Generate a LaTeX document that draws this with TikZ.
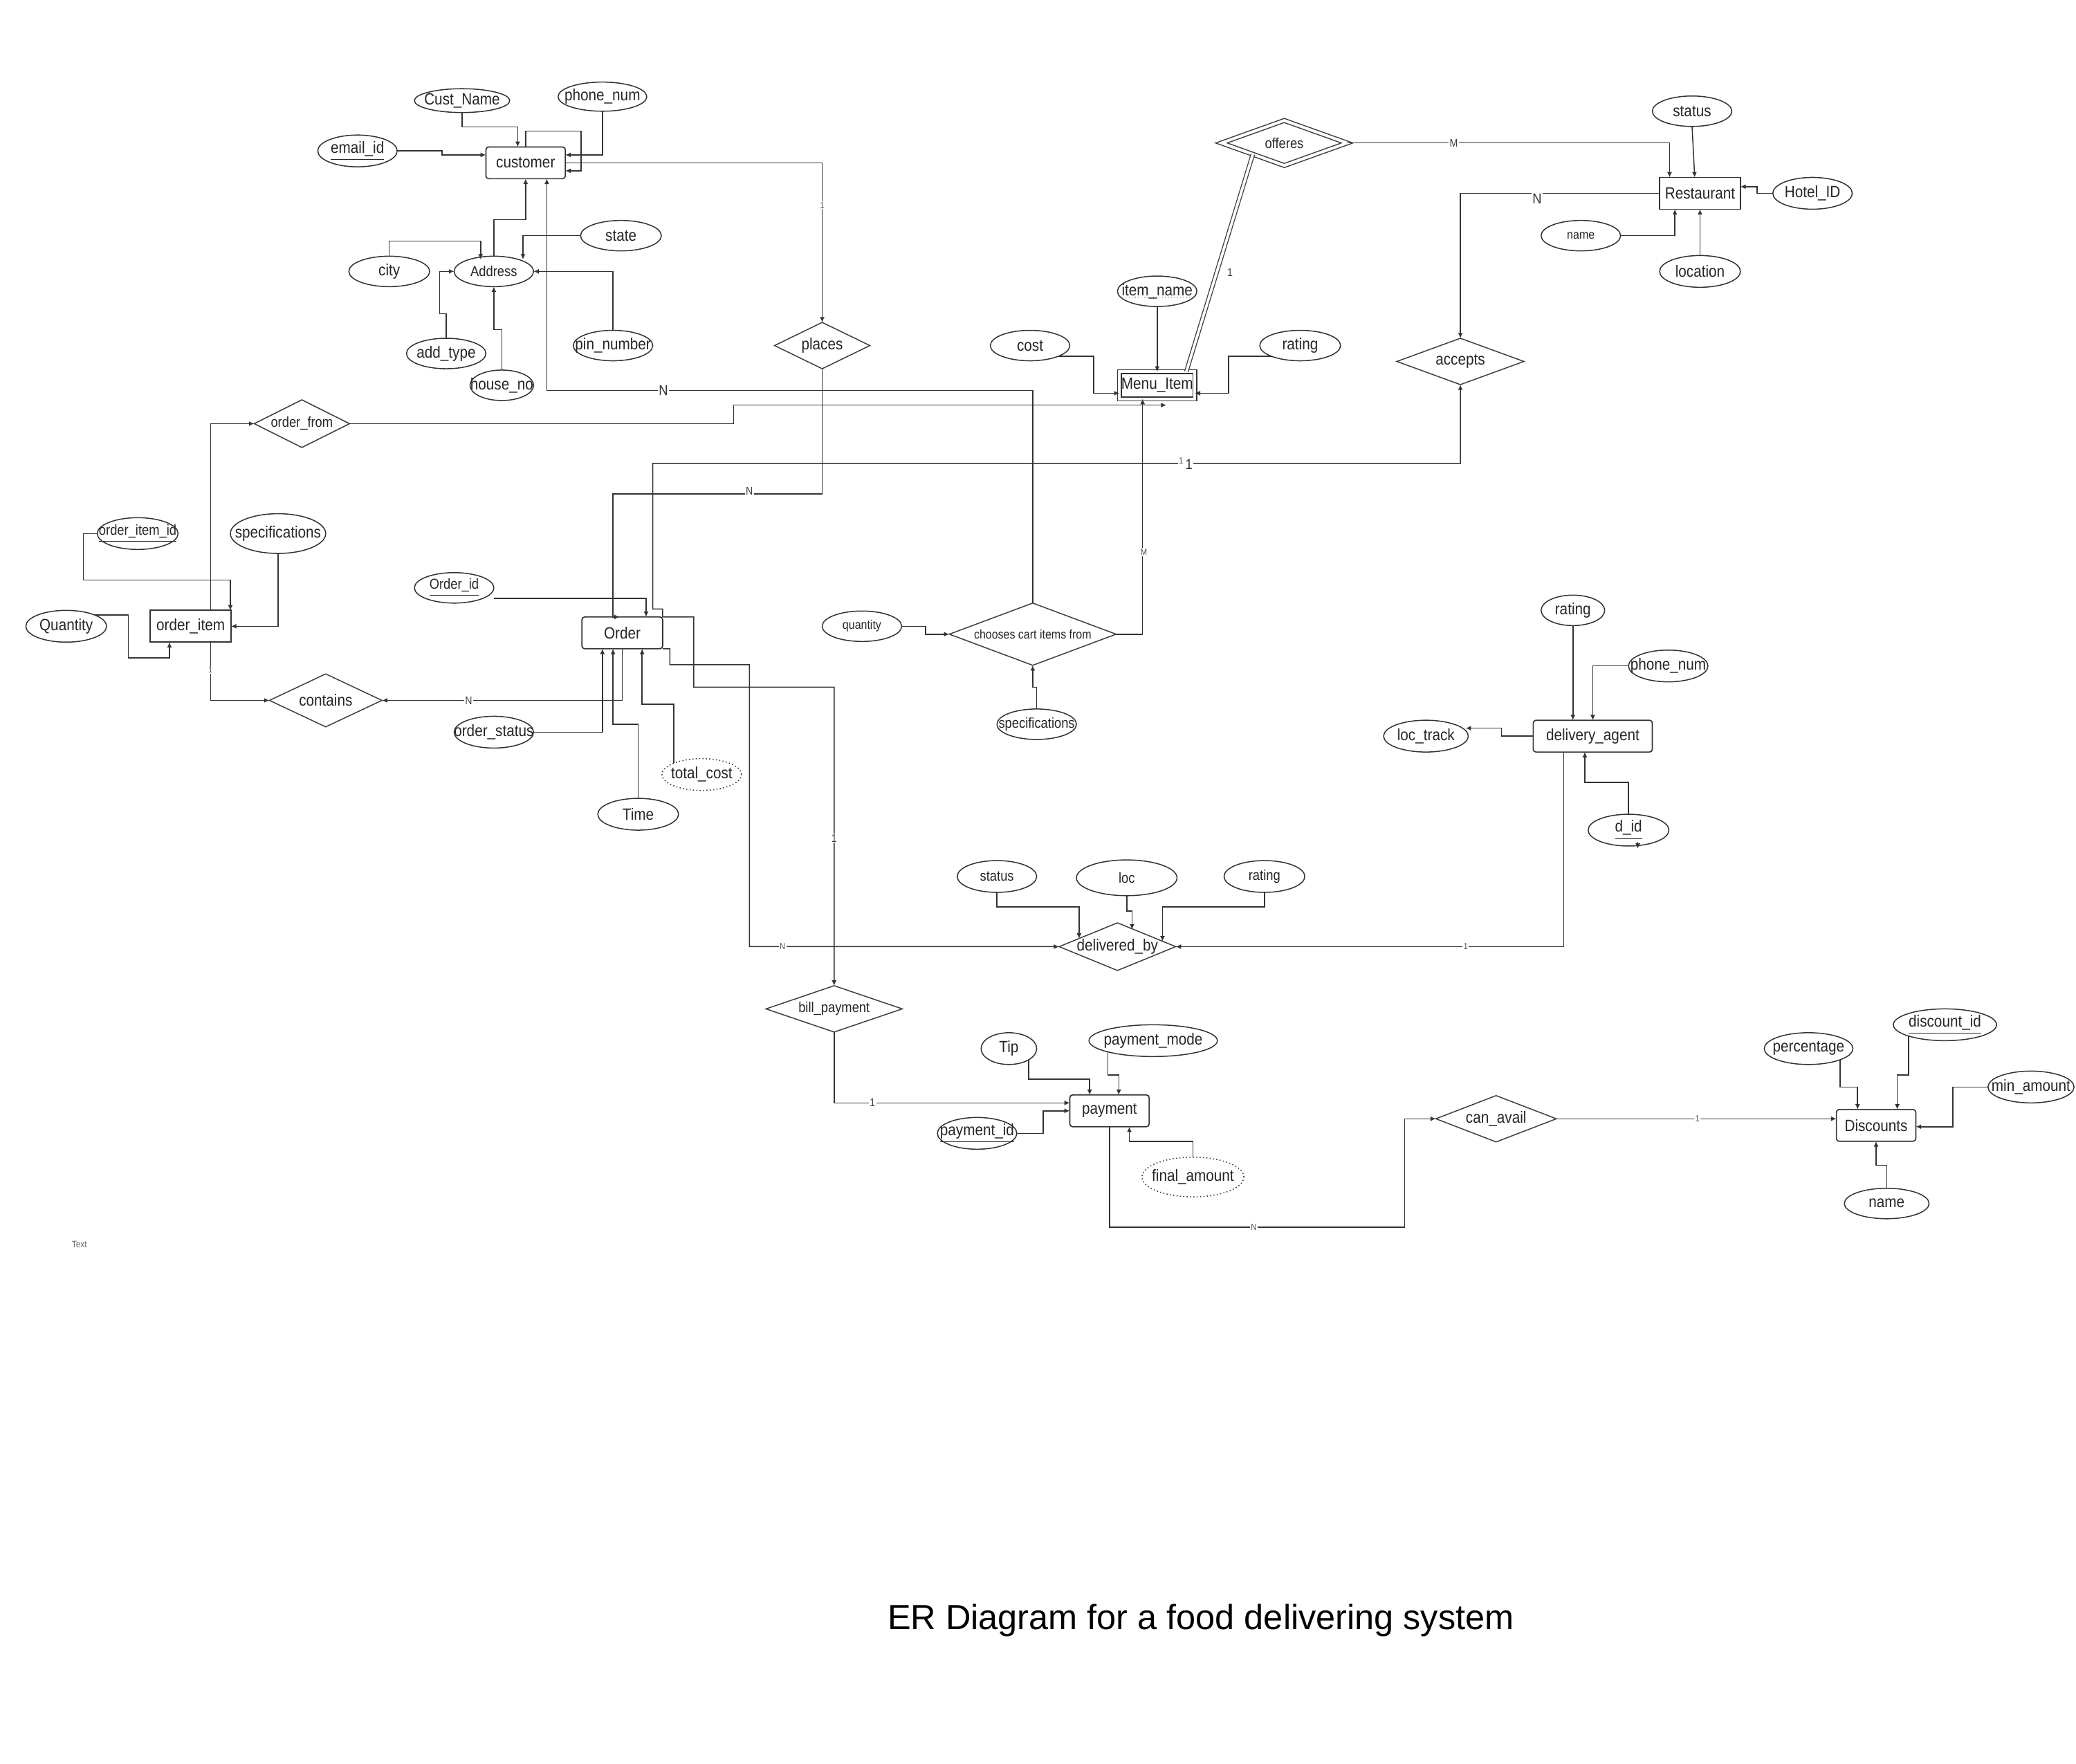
\documentclass[tikz,border=0pt]{standalone}
\usepackage{fontspec}
\setmainfont{Liberation Sans}[FakeStretch=0.88]
\newfontfamily\titlefont{Liberation Sans}
\usetikzlibrary{shapes.geometric,arrows.meta,calc}
\newcommand\ztx[1]{\makebox[0pt]{#1}}
\newcommand\fN{\fontsize{7}{8}\selectfont}
\newcommand\fM{\fontsize{6.2}{7}\selectfont}
\newcommand\fS{\fontsize{5.4}{6}\selectfont}
\tikzset{
  every node/.style={inner sep=0pt, outer sep=0pt, text=black!85},
  ent/.style={draw=black!80, rectangle, minimum height=0.48cm, font=\fN, line width=0.5pt},
  rship/.style 2 args={draw=black!75, diamond, font=\fN, line width=0.45pt, minimum width=#1cm, minimum height=#2cm},
  attr/.style 2 args={draw=black!80, ellipse, font=\fN, line width=0.45pt, minimum width=#1cm, minimum height=#2cm},
  arr/.style={draw=black!80, line width=0.45pt, -{Latex[length=2.3pt,width=2.1pt]}},
  cardA/.style={fill=white, inner sep=0.4pt, text=black!70, font=\fontsize{3.8}{4}\selectfont},
  cardB/.style={fill=white, inner sep=0.4pt, text=black!75, font=\fontsize{4.8}{5}\selectfont},
  cardC/.style={fill=white, inner sep=0.4pt, text=black!80, font=\fontsize{6.2}{6}\selectfont},
}
\begin{document}
\begin{tikzpicture}[x=0.02cm,y=-0.02cm]
\fill[white] (0,0) rectangle (1568,1332);
\useasboundingbox (0,0) rectangle (1568,1332);

% ---------------- entities
\node[ent, rounded corners=1.2pt, minimum width=1.2cm] (cust) at (397,123) {\ztx{customer}};
\node[ent, minimum width=1.22cm] (rest) at (1284,146) {\ztx{Restaurant}};
\node[ent, double, double distance=1.2pt, minimum width=1.14cm, minimum height=0.41cm] (menu) at (874,291) {\ztx{Menu\_Item}};
\node[ent, minimum width=1.22cm] (oitem) at (144,473) {\ztx{order\_item}};
\node[ent, rounded corners=1.2pt, minimum width=1.22cm] (order) at (470,478) {\ztx{Order}};
\node[ent, rounded corners=1.2pt, minimum width=1.8cm] (agent) at (1203,556) {\ztx{delivery\_agent}};
\node[ent, rounded corners=1.2pt, minimum width=1.2cm] (pay) at (838,839) {\ztx{payment}};
\node[ent, rounded corners=1.2pt, minimum width=1.2cm] (disc) at (1417,850) {\ztx{Discounts}};

% ---------------- relationships
\node[rship={1.44}{0.7}] (places) at (621,261) {\ztx{places}};
\node[rship={1.9}{0.68}, double, double distance=1.2pt, font=\fM] (offeres) at (970,108) {\ztx{offeres}};
\node[rship={1.92}{0.7}] (accepts) at (1103,273) {\ztx{accepts}};
\node[rship={1.44}{0.72}, font=\fM] (ofrom) at (228,320) {\ztx{order\_from}};
\node[rship={2.52}{0.94}, font=\fS] (chooses) at (780,479) {\ztx{chooses cart items from}};
\node[rship={1.7}{0.8}] (contains) at (246,529) {\ztx{contains}};
\node[rship={1.76}{0.72}] (delby) at (844,715) {\ztx{delivered\_by}};
\node[rship={2.06}{0.7}, font=\fM] (billp) at (630,762) {\ztx{bill\_payment}};
\node[rship={1.82}{0.7}] (canav) at (1130,845) {\ztx{can\_avail}};

% ---------------- attributes
\node[attr={1.44}{0.36}] (cname) at (349,76) {\ztx{Cust\_Name}};
\node[attr={1.34}{0.44}] (cphone) at (455,73) {\ztx{phone\_num}};
\node[attr={1.2}{0.48}] (email) at (270,114) {\ztx{\underline{email\_id}}};
\node[attr={1.2}{0.46}, font=\fM] (addr) at (373,205) {\ztx{Address}};
\node[attr={1.22}{0.46}] (city) at (294,205) {\ztx{city}};
\node[attr={1.22}{0.46}] (state) at (469,178) {\ztx{state}};
\node[attr={1.2}{0.46}] (addtype) at (337,267) {\ztx{add\_type}};
\node[attr={0.96}{0.46}] (houseno) at (379,291) {\ztx{house\_no}};
\node[attr={1.2}{0.46}] (pin) at (463,261) {\ztx{pin\_number}};
\node[attr={1.2}{0.46}] (iname) at (874,220) {\ztx{item\_name}};
\node[attr={1.2}{0.46}] (cost) at (778,261) {\ztx{cost}};
\node[attr={1.22}{0.46}] (mrating) at (982,261) {\ztx{rating}};
\node[attr={1.2}{0.46}] (rstatus) at (1278,84) {\ztx{status}};
\node[attr={1.2}{0.48}] (hotel) at (1369,146) {\ztx{Hotel\_ID}};
\node[attr={1.2}{0.46}, font=\fS] (rname) at (1194,178) {\ztx{name}};
\node[attr={1.22}{0.48}] (loc) at (1284,205) {\ztx{location}};
\node[attr={1.22}{0.48}, font=\fM] (oiid) at (104,403) {\ztx{\underline{order\_item\_id}}};
\node[attr={1.44}{0.6}] (specs) at (210,403) {\ztx{specifications}};
\node[attr={1.22}{0.48}] (qty) at (50,473) {\ztx{Quantity}};
\node[attr={1.2}{0.46}, font=\fM] (orderid) at (343,444) {\ztx{\underline{Order\_id}}};
\node[attr={1.2}{0.48}] (ostatus) at (373,553) {\ztx{order\_status}};
\node[attr={1.22}{0.48}] (time) at (482,615) {\ztx{Time}};
\node[attr={1.2}{0.48}, densely dotted] (tcost) at (530,585) {\ztx{total\_cost}};
\node[attr={1.2}{0.46}, font=\fS] (quantity) at (651,473) {\ztx{quantity}};
\node[attr={1.2}{0.46}, font=\fM] (cspecs) at (783,547) {\ztx{specifications}};
\node[attr={1.2}{0.48}, font=\fM] (dstatus) at (753,662) {\ztx{status}};
\node[attr={1.52}{0.54}, font=\fM] (dloc) at (851,663) {\ztx{loc}};
\node[attr={1.22}{0.48}, font=\fM] (drating) at (955,662) {\ztx{rating}};
\node[attr={0.96}{0.46}] (arating) at (1188,461) {\ztx{rating}};
\node[attr={1.2}{0.48}] (aphone) at (1260,503) {\ztx{phone\_num}};
\node[attr={1.28}{0.48}] (loctrack) at (1077,556) {\ztx{loc\_track}};
\node[attr={1.22}{0.48}] (did) at (1230,627) {\ztx{\underline{d\_id}}};
\node[attr={0.84}{0.48}] (tip) at (762,792) {\ztx{Tip}};
\node[attr={1.94}{0.48}] (pmode) at (871,786) {\ztx{payment\_mode}};
\node[attr={1.2}{0.48}] (payid) at (738,856) {\ztx{\underline{payment\_id}}};
\node[attr={1.54}{0.6}, densely dotted] (famount) at (901,889) {\ztx{final\_amount}};
\node[attr={1.34}{0.48}] (percent) at (1366,792) {\ztx{percentage}};
\node[attr={1.56}{0.48}] (discid) at (1469,774) {\ztx{\underline{discount\_id}}};
\node[attr={1.3}{0.48}] (minamt) at (1534,821) {\ztx{min\_amount}};
\node[attr={1.28}{0.46}] (dname) at (1425,909) {\ztx{name}};

\draw[densely dotted, line width=0.3pt, black!70] ($(iname.center)+(-26,4.5)$) -- ++(52,0);

% ---------------- free texts
\node[font=\fontsize{4}{5}\selectfont, text=black!60] (txt) at (60,940) {Text};
\node[font=\titlefont\fontsize{15}{18}\selectfont, text=black] (title) at (907,1224) {ER Diagram for a food delivering system};

% ---------------- connectors: customer
\draw[arr] (cname.south) |- (391,96) -- (391,0 |- cust.north);
\draw[arr] (cust.north) -- (397,99) -| (439,129) -- (cust.east |- 0,129);
\draw[arr] (cphone.south) |- (cust.east |- 0,117);
\draw[arr] (email.east) -- (334,114) |- (cust.west |- 0,117);
\draw[arr] (cust.east) -| (places.north);
\draw[arr] (addr.north) |- (397,166) -- (cust.south);
\draw[arr] (chooses.north) |- (413,295) -- (413,0 |- cust.south);
\draw[arr] (city.north) |- (363,182) -- (363,196);
\draw[arr] (state.west) -| (395,196);
\draw[arr] (addtype.north) |- (332,237) -- (332,205) -- (addr.west);
\draw[arr] (houseno.north) |- (373,249) -- (addr.south);
\draw[arr] (pin.north) |- (addr.east);

% ---------------- order
\draw[arr] (places.south) |- (463,373) -- (463,0 |- order.north) -- ++(5,0);
\draw[arr] (orderid.east |- 0,452) -| (488,0 |- order.north);
\draw[arr] (order.north east) -- ++(0,-6) -- (493,460) -- (493,350) -| (accepts.south);
\draw[arr] (order.north east) -- (524,466) -- (524,519) -| (billp.north);
\draw[arr] (order.south east) -- (506,490) -- (506,502) -| (566,715) -- (delby.west);
\draw[arr] (order.south) |- (contains.east);
\draw[arr] (ostatus.east) -| (455,0 |- order.south);
\draw[arr] (time.north) |- (463,547) -- (463,0 |- order.south);
\draw[arr] (tcost.north west) |- (485,532) -- (485,0 |- order.south);

% ---------------- restaurant
\draw[arr] (rest.west) -| (accepts.north);
\draw[arr] (offeres.east) -| (1261,0 |- rest.north);
\draw[double, double distance=1.1pt, line width=0.4pt, draw=black!75] (offeres.south west) -- (896,0 |- menu.north);
\draw[arr] (rstatus.south) -- (1280,0 |- rest.north);
\draw[arr] (hotel.west) -- (1327,146) -- (1327,141) -- (rest.east |- 0,141);
\draw[arr] (rname.east) -| (1265,0 |- rest.south);
\draw[arr] (loc.north) -- (rest.south);

% ---------------- menu item
\draw[arr] (iname.south) -- (menu.north);
\draw[arr] (cost.south east) -| (826,297) -- (menu.west |- 0,297);
\draw[arr] (mrating.south west) -| (928,297) -- (menu.east |- 0,297);
\draw[arr] (chooses.east) -| (863,0 |- menu.south);
\coordinate (ofend) at (881,306);
\draw[arr] (ofrom.east) -- (554,320) -- (554,306) -- (ofend);

% ---------------- order item
\draw[arr] (159,0 |- oitem.north) |- (ofrom.west);
\draw[arr] (oiid.west) -- (63,403) -- (63,438) -| (174,0 |- oitem.north);
\draw[arr] (specs.south) |- (oitem.east);
\draw[arr] (qty.north east) -| (97,497) -| (128,0 |- oitem.south);
\draw[arr] (159,0 |- oitem.south) |- (contains.west);

% ---------------- chooses
\draw[arr] (quantity.east) -| (699,479) -- (chooses.west);
\draw[arr] (cspecs.north) |- (780,519) -- (chooses.south);

% ---------------- delivered_by
\draw[arr] (dstatus.south) |- (815,685) -- (815,709);
\draw[arr] (dloc.south) |- (855,688) -- (855,702);
\draw[arr] (drating.south) |- (878,685) -- (878,711);
\draw[arr] (1181,0 |- agent.south) |- (delby.east);

% ---------------- delivery agent
\draw[arr] (arating.south) -- (1188,0 |- agent.north);
\draw[arr] (aphone.west) -| (agent.north);
\draw[arr] (agent.west) -| (1134,550) -- (1107,550);
\draw[arr] (did.north) |- (1197,591) -- (1197,0 |- agent.south);
\draw[arr] ([xshift=0.14cm,yshift=0.06cm]did.south) -- ++(0,5);

% ---------------- payment
\draw[arr] (billp.south) |- (pay.west |- 0,833);
\draw[arr] (tip.south east) |- (823,815) -- (823,0 |- pay.north);
\draw[arr] (pmode.south west) |- (845,812) -- (845,0 |- pay.north);
\draw[arr] (payid.east) -| (788,839) -- (pay.west);
\draw[arr] (famount.north) |- (853,862) -- (853,0 |- pay.south);
\draw[arr] (pay.south) |- (1061,927) |- (canav.west);
\draw[arr] (canav.east) -- (disc.west |- canav.east);

% ---------------- discounts
\draw[arr] (percent.south east) |- (1403,821) -- (1403,0 |- disc.north);
\draw[arr] (discid.south west) |- (1433,812) -- (1433,0 |- disc.north);
\draw[arr] (minamt.west) -| (1475,851) -- (disc.east |- 0,851);
\draw[arr] (dname.north) |- (1417,880) -- (disc.south);

% ---------------- cardinalities
\node[cardA] (k1) at (621,155) {1};
\node[cardC] (k2) at (501,295) {N};
\node[cardB] (k3) at (566,371) {N};
\node[cardA] (k4) at (864,417) {M};
\node[cardB, fill=none] (k5) at (929,206) {1};
\node[cardA] (k6) at (892,348) {1};
\node[cardC] (k7) at (898,351) {1};
\node[cardB] (k8) at (354,529) {N};
\node[cardA] (k9) at (159,506) {1};
\node[cardB] (k10) at (630,633) {1};
\node[cardA] (k11) at (591,715) {N};
\node[cardA] (k12) at (1107,715) {1};
\node[cardB] (k13) at (659,833) {1};
\node[cardA] (k14) at (947,927) {N};
\node[cardA] (k15) at (1282,845) {1};
\node[cardB] (k16) at (1098,108) {M};
\node[cardC] (k17) at (1161,150) {N};
\end{tikzpicture}
\end{document}
